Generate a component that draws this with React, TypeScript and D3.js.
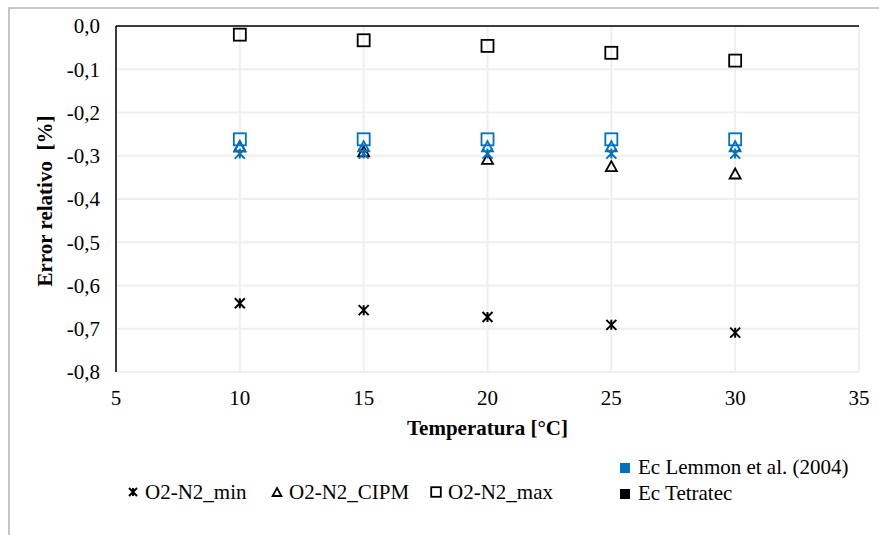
import * as d3 from "d3";

const temps = [10, 15, 20, 25, 30];

// Ec Tetratec (black)
const tetraMin = [-0.641, -0.657, -0.673, -0.691, -0.709];
const tetraCipm = [-0.278, -0.29, -0.307, -0.324, -0.341];
const tetraMax = [-0.02, -0.033, -0.046, -0.062, -0.08];

// Ec Lemmon et al. (2004) (blue)
const lemmonMin = [-0.295, -0.295, -0.295, -0.295, -0.295];
const lemmonCipm = [-0.278, -0.278, -0.278, -0.278, -0.278];
const lemmonMax = [-0.262, -0.262, -0.262, -0.262, -0.262];

const xTicks = [5, 10, 15, 20, 25, 30, 35];
const yTicks = [0, -0.1, -0.2, -0.3, -0.4, -0.5, -0.6, -0.7, -0.8];

const BLUE = "#0070C0";
const BLACK = "#000000";
const GRID = "#efefef";
const FONT = "Liberation Serif";
const FS = 21;

const W = 879;
const H = 535;
const margin = { left: 116, right: 20, top: 26, bottom: 163 };

const x = d3.scaleLinear().domain([5, 35]).range([margin.left, W - margin.right]);
const y = d3.scaleLinear().domain([-0.8, 0]).range([H - margin.bottom, margin.top]);

const fmt = (v: number) => d3.format(".1f")(v).replace(".", ",").replace("−", "-");

type Shape = "star" | "tri" | "sq";

function Marker({ shape, cx, cy, color, s = 1 }: { shape: Shape; cx: number; cy: number; color: string; s?: number }) {
  if (shape === "sq") {
    const h = 6 * s;
    return <rect x={cx - h} y={cy - h} width={2 * h} height={2 * h} fill="none" stroke={color} strokeWidth={1.8} />;
  }
  if (shape === "tri") {
    const h = 5 * s;
    return (
      <path
        d={`M${cx},${cy - h}L${cx + h * 1.1},${cy + h}L${cx - h * 1.1},${cy + h}Z`}
        fill="none"
        stroke={color}
        strokeWidth={1.8}
      />
    );
  }
  const h = 5 * s;
  return (
    <path
      d={`M${cx},${cy - h}V${cy + h}M${cx - h},${cy - h}L${cx + h},${cy + h}M${cx + h},${cy - h}L${cx - h},${cy + h}`}
      stroke={color}
      strokeWidth={2}
      fill="none"
    />
  );
}

const series: { vals: number[]; shape: Shape; color: string }[] = [
  { vals: tetraMin, shape: "star", color: BLACK },
  { vals: tetraCipm, shape: "tri", color: BLACK },
  { vals: tetraMax, shape: "sq", color: BLACK },
  { vals: lemmonMin, shape: "star", color: BLUE },
  { vals: lemmonCipm, shape: "tri", color: BLUE },
  { vals: lemmonMax, shape: "sq", color: BLUE },
];

const shapeLegend: { label: string; shape: Shape; x: number }[] = [
  { label: "O2-N2_min", shape: "star", x: 133 },
  { label: "O2-N2_CIPM", shape: "tri", x: 277 },
  { label: "O2-N2_max", shape: "sq", x: 436 },
];

const colorLegend = [
  { label: "Ec Lemmon et al. (2004)", color: BLUE },
  { label: "Ec Tetratec", color: BLACK },
];

export default function App() {
  const [x0, x1] = x.range();
  const [y1, y0] = y.range();
  return (
    <svg
      width={W}
      height={H}
      style={{ position: "absolute", left: 0, top: 0, background: "#fff", fontFamily: FONT }}
    >
      <rect width={W} height={H} fill="#fff" />
      {/* outer frame */}
      <path d={`M9,${H}V8H${W}`} fill="none" stroke="#b4b4b4" strokeWidth={1.5} />

      {/* gridlines */}
      {yTicks.map((t) => (
        <line key={"gy" + t} x1={x0} x2={x1} y1={y(t)} y2={y(t)} stroke={GRID} strokeWidth={2} />
      ))}
      {xTicks.map((t) => (
        <line key={"gx" + t} x1={x(t)} x2={x(t)} y1={y0} y2={y1} stroke={GRID} strokeWidth={2} />
      ))}

      {/* axes lines */}
      <line x1={x0} x2={x1} y1={y(0)} y2={y(0)} stroke="#000" strokeWidth={1.5} />
      <line x1={x0} x2={x0} y1={y0} y2={y1} stroke="#000" strokeWidth={1.5} />

      {/* tick labels */}
      {yTicks.map((t) => (
        <text key={"ty" + t} x={x0 - 16} y={y(t)} dy="0.35em" textAnchor="end" fontSize={FS}>
          {t === 0 ? "0,0" : fmt(t)}
        </text>
      ))}
      {xTicks.map((t) => (
        <text key={"tx" + t} x={x(t)} y={y1 + 26} dy="0.35em" textAnchor="middle" fontSize={FS}>
          {t}
        </text>
      ))}

      {/* axis titles */}
      <text x={(x0 + x1) / 2} y={428} dy="0.35em" textAnchor="middle" fontSize={FS} fontWeight="bold">
        Temperatura [°C]
      </text>
      <text
        transform={`translate(45,${(y0 + y1) / 2 + 2}) rotate(-90)`}
        dy="0.35em"
        textAnchor="middle"
        fontSize={FS}
        fontWeight="bold"
        style={{ whiteSpace: "pre" }}
      >
        {"Error relativo  [%]"}
      </text>

      {/* data */}
      {series.map((s, si) => (
        <g key={"s" + si}>
          {s.vals.map((v, i) => (
            <Marker key={i} shape={s.shape} cx={x(temps[i])} cy={y(v)} color={s.color} />
          ))}
        </g>
      ))}

      {/* legend: shapes */}
      {shapeLegend.map((l) => (
        <g key={l.label}>
          <Marker shape={l.shape} cx={l.x} cy={492} color={BLACK} s={0.8} />
          <text x={l.x + 12} y={492} dy="0.35em" fontSize={FS}>
            {l.label}
          </text>
        </g>
      ))}

      {/* legend: colors */}
      {colorLegend.map((l, i) => (
        <g key={l.label}>
          <rect x={620} y={463 + i * 26} width={10} height={10} fill={l.color} />
          <text x={638} y={467 + i * 26} dy="0.35em" fontSize={FS}>
            {l.label}
          </text>
        </g>
      ))}
    </svg>
  );
}
